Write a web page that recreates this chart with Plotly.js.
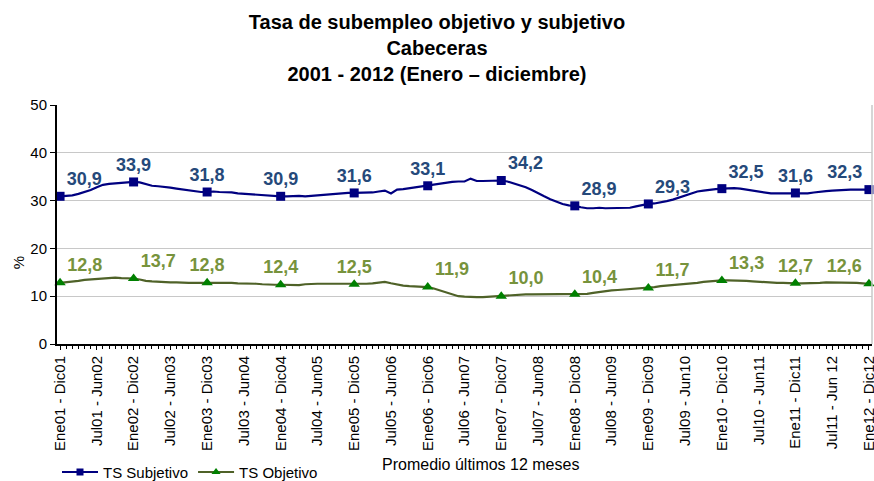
<!DOCTYPE html>
<html>
<head>
<meta charset="utf-8">
<script src="https://cdn.plot.ly/plotly-3.0.1.min.js"></script>
<style>
  body { margin: 0; background: #fff; }
  #grafico { width: 874px; height: 481px; }
</style>
</head>
<body>
<div id="grafico"></div>
<script>
// etiquetas del eje x (cada 6 meses)
var periodos = ["Ene01 - Dic01", "Jul01 - Jun02", "Ene02 - Dic02", "Jul02 - Jun03", "Ene03 - Dic03",
  "Jul03 - Jun04", "Ene04 - Dic04", "Jul04 - Jun05", "Ene05 - Dic05", "Jul05 - Jun06", "Ene06 - Dic06",
  "Jul06 - Jun07", "Ene07 - Dic07", "Jul07 - Jun08", "Ene08 - Dic08", "Jul08 - Jun09", "Ene09 - Dic09",
  "Jul09 - Jun10", "Ene10 - Dic10", "Jul10 - Jun11", "Ene11 - Dic11", "Jul11 - Jun 12", "Ene12 - Dic12"];

// promedio movil 12 meses, TS subjetivo
var subjetivo = [30.9, 31.0, 31.1, 31.4, 31.8, 32.2, 32.8, 33.3, 33.5, 33.6, 33.7, 33.9,
  33.9, 33.8, 33.5, 33.1, 33.0, 32.9, 32.7, 32.5, 32.3, 32.1, 31.9, 31.8,
  31.8, 31.9, 31.8, 31.8, 31.7, 31.5, 31.4, 31.3, 31.2, 31.1, 31.0, 30.9,
  30.9, 30.9, 31.0, 31.0, 30.9, 31.0, 31.2, 31.3, 31.4, 31.5, 31.5, 31.6,
  31.6, 31.6, 31.7, 31.7, 31.9, 32.1, 31.5, 32.3, 32.4, 32.6, 32.8, 32.9,
  33.1, 33.3, 33.5, 33.7, 33.9, 34.0, 34.0, 34.6, 34.1, 34.1, 34.1, 34.2,
  34.2, 34.0, 33.6, 33.2, 32.8, 32.2, 31.5, 30.9, 30.3, 29.8, 29.3, 29.0,
  28.9, 28.6, 28.4, 28.4, 28.5, 28.4, 28.4, 28.4, 28.4, 28.5, 28.8, 29.1,
  29.3, 29.4, 29.6, 29.9, 30.2, 30.6, 31.1, 31.5, 31.9, 32.1, 32.3, 32.4,
  32.5, 32.6, 32.6, 32.5, 32.3, 32.1, 31.9, 31.7, 31.5, 31.5, 31.5, 31.6,
  31.6, 31.5, 31.5, 31.7, 31.9, 32.0, 32.1, 32.2, 32.2, 32.3, 32.3, 32.3,
  32.3];

// promedio movil 12 meses, TS objetivo
var objetivo = [12.8, 12.9, 13.1, 13.2, 13.4, 13.5, 13.7, 13.8, 13.8, 13.9, 13.8, 13.8,
  13.7, 13.5, 13.2, 13.1, 13.0, 13.0, 12.9, 12.9, 12.8, 12.8, 12.8, 12.8,
  12.8, 12.8, 12.8, 12.9, 12.8, 12.7, 12.7, 12.6, 12.6, 12.5, 12.4, 12.4,
  12.4, 12.4, 12.4, 12.3, 12.5, 12.6, 12.6, 12.6, 12.6, 12.5, 12.5, 12.5,
  12.5, 12.5, 12.6, 12.7, 12.8, 13.0, 12.7, 12.4, 12.2, 12.1, 12.0, 12.0,
  11.9, 11.6, 11.2, 10.8, 10.4, 10.0, 9.9, 9.8, 9.8, 9.8, 9.9, 10.0,
  10.0, 10.2, 10.3, 10.4, 10.4, 10.4, 10.4, 10.4, 10.4, 10.5, 10.4, 10.4,
  10.4, 10.4, 10.5, 10.7, 10.9, 11.1, 11.2, 11.3, 11.4, 11.5, 11.6, 11.6,
  11.7, 11.9, 12.1, 12.2, 12.3, 12.4, 12.5, 12.7, 12.8, 13.0, 13.1, 13.3,
  13.3, 13.3, 13.3, 13.3, 13.2, 13.1, 13.0, 12.9, 12.8, 12.8, 12.8, 12.7,
  12.7, 12.7, 12.7, 12.8, 12.8, 12.9, 12.9, 12.9, 12.9, 12.9, 12.8, 12.7,
  12.6];

// posicion de las etiquetas anuales
var posSub = ["top right", "top center", "top center", "top center", "top center", "top center",
  "top right", "top right", "top right", "top right", "top center", "top left"];
var posObj = ["top right", "top right", "top center", "top center", "top center", "top right",
  "top right", "top right", "top right", "top right", "top center", "top left"];

var meses = subjetivo.map(function (v, i) { return i; });
var tickPos = periodos.map(function (p, i) { return i * 6; });

// puntos anuales (Ene - Dic)
function anual(serie) {
  var xs = [], ys = [], tx = [];
  for (var i = 0; i < serie.length; i += 12) {
    xs.push(i); ys.push(serie[i]); tx.push(serie[i].toFixed(1).replace('.', ','));
  }
  return { x: xs, y: ys, text: tx };
}
var aSub = anual(subjetivo), aObj = anual(objetivo);

var azul = '#000080', verde = '#4F6228';

var data = [
  { x: meses, y: subjetivo, mode: 'lines', type: 'scatter', line: { color: azul, width: 2.2 },
    showlegend: false, hoverinfo: 'skip' },
  { x: meses, y: objetivo, mode: 'lines', type: 'scatter', line: { color: verde, width: 2.2 },
    showlegend: false, hoverinfo: 'skip' },
  { x: aSub.x, y: aSub.y, text: aSub.text, mode: 'markers+text', type: 'scatter', showlegend: false,
    marker: { symbol: 'square', size: 9, color: azul }, textposition: posSub, cliponaxis: false,
    textfont: { family: 'Liberation Sans, Arial', size: 18, color: '#25497A', weight: 'bold' } },
  { x: aObj.x, y: aObj.y, text: aObj.text, mode: 'markers+text', type: 'scatter', showlegend: false,
    marker: { symbol: 'triangle-up', size: 10, color: '#008000' }, textposition: posObj, cliponaxis: false,
    textfont: { family: 'Liberation Sans, Arial', size: 18, color: '#77933C', weight: 'bold' } },
  // entradas de leyenda
  { x: [null], y: [null], mode: 'lines+markers', type: 'scatter', name: 'TS Subjetivo',
    line: { color: azul, width: 2 }, marker: { symbol: 'square', size: 7, color: azul } },
  { x: [null], y: [null], mode: 'lines+markers', type: 'scatter', name: 'TS Objetivo',
    line: { color: verde, width: 2 }, marker: { symbol: 'triangle-up', size: 8, color: '#008000' } }
];

var layout = {
  width: 874, height: 481,
  margin: { l: 57, r: 2, t: 105, b: 137 },
  paper_bgcolor: '#fff', plot_bgcolor: '#fff',
  font: { family: 'Liberation Sans, Arial', size: 14, color: '#000' },
  title: {
    text: '<b>Tasa de subempleo objetivo y subjetivo<br>Cabeceras<br>2001 - 2012 (Enero – diciembre)</b>',
    font: { family: 'Liberation Sans, Arial', size: 20, color: '#000' },
    x: 0.5, xref: 'container', y: 0.94, yref: 'container', yanchor: 'top'
  },
  xaxis: {
    range: [-0.5, 132.5], tickvals: tickPos, ticktext: periodos, tickangle: -90,
    automargin: false, ticklabeloverflow: 'allow',
    showgrid: false, zeroline: false, showline: true, linecolor: '#000', linewidth: 2,
    ticks: 'outside', ticklen: 4, tickcolor: '#000',
    minor: { dtick: 1, ticks: 'outside', ticklen: 3, tickcolor: '#000', showgrid: false },
    tickfont: { size: 15 }
  },
  yaxis: {
    range: [0, 50], dtick: 10, showgrid: true, gridcolor: '#C8C8C8', gridwidth: 1,
    automargin: false,
    zeroline: false, showline: true, linecolor: '#000', linewidth: 2,
    ticks: 'outside', ticklen: 5, tickcolor: '#000', tickfont: { size: 15 }
  },
  shapes: [
    { type: 'line', xref: 'paper', yref: 'paper', x0: 1, x1: 1, y0: 0, y1: 1,
      line: { color: '#C8C8C8', width: 1.5 } }
  ],
  annotations: [
    { text: 'Promedio últimos 12 meses', xref: 'paper', yref: 'paper', x: 0.52, y: -0.506,
      yanchor: 'middle', showarrow: false, font: { size: 16 } },
    { text: '%', xref: 'paper', yref: 'paper', x: -0.06, y: 0.34, textangle: -90,
      showarrow: false, font: { size: 15 } }
  ],
  legend: {
    orientation: 'h', x: 0.0, xanchor: 'left', yref: 'container', y: 0.018, yanchor: 'middle',
    font: { size: 15 }, bgcolor: 'rgba(0,0,0,0)', itemwidth: 36
  }
};

Plotly.newPlot('grafico', data, layout, { displayModeBar: false, staticPlot: true });
</script>
</body>
</html>
